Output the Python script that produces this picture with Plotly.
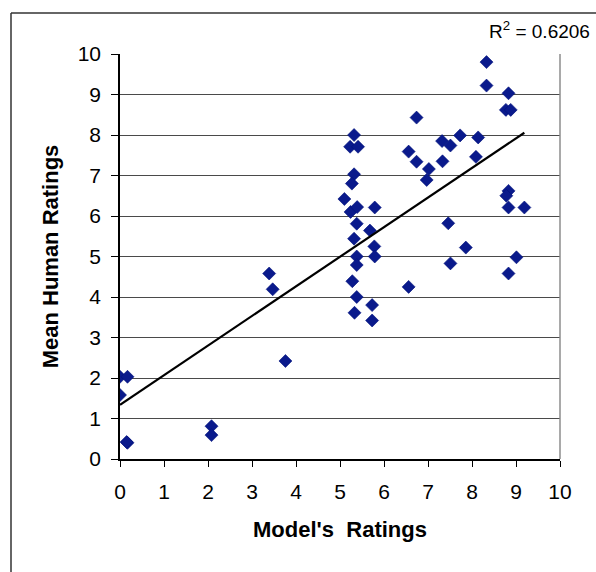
import numpy as np
import plotly.graph_objects as go

# Data
model_ratings = [0.00, 0.17, 0.00, 0.17, 0.15, 2.08, 2.08, 3.39, 3.47, 3.76,
                 5.32, 5.23, 5.41, 5.32, 5.27, 5.10, 5.24, 5.39, 5.79, 5.38,
                 5.68, 5.32, 5.78, 5.38, 5.79, 5.38, 5.28, 5.38, 5.73, 5.33,
                 5.73, 6.56, 7.51, 7.86, 9.01, 8.83, 8.33, 8.33, 8.83, 8.77,
                 8.88, 6.74, 7.73, 8.14, 7.32, 7.51, 6.56, 6.74, 7.33, 8.09,
                 7.02, 6.97, 8.83, 8.78, 8.83, 9.19, 7.46]
human_ratings = [2.03, 2.03, 1.58, 0.40, 0.42, 0.81, 0.59, 4.58, 4.19, 2.42,
                 8.00, 7.71, 7.71, 7.03, 6.80, 6.42, 6.10, 6.22, 6.21, 5.81,
                 5.64, 5.44, 5.25, 5.00, 5.00, 4.79, 4.39, 4.00, 3.80, 3.61,
                 3.42, 4.25, 4.83, 5.22, 4.98, 4.58, 9.80, 9.22, 9.03, 8.62,
                 8.62, 8.43, 7.99, 7.94, 7.85, 7.74, 7.59, 7.34, 7.35, 7.46,
                 7.16, 6.89, 6.62, 6.50, 6.21, 6.21, 5.82]
r_squared_text = "R<sup>2</sup> = 0.6206"
tick_values = list(range(0, 11))
x_title = "Model's&nbsp; Ratings"
y_title = "Mean Human Ratings"

# Linear trendline (least squares) over the data range
x_arr = np.array(model_ratings)
y_arr = np.array(human_ratings)
slope, intercept = np.polyfit(x_arr, y_arr, 1)
trend_x = np.array([x_arr.min(), x_arr.max()])
trend_y = intercept + slope * trend_x

FONT = "Liberation Sans, Arial, sans-serif"

# plot-area geometry in pixels (for paper-coordinate conversion)
W, H = 596, 572
L, R, T, B = 120, 36, 54, 113
pw, ph = W - L - R, H - T - B
def px_x(x):
    return (x - L) / pw
def px_y(y):
    return (H - B - y) / ph

fig = go.Figure()
fig.add_trace(go.Scatter(
    x=model_ratings, y=human_ratings, mode="markers",
    marker=dict(symbol="diamond", size=10, color="#0a1a8c",
                line=dict(width=0.6, color="#00107a")),
    showlegend=False, hoverinfo="x+y"))
fig.add_trace(go.Scatter(
    x=trend_x, y=trend_y, mode="lines",
    line=dict(color="black", width=2.2), showlegend=False, hoverinfo="skip"))

fig.update_layout(
    width=W, height=H,
    margin=dict(l=L, r=R, t=T, b=B, pad=0, autoexpand=False),
    paper_bgcolor="white", plot_bgcolor="white",
    font=dict(family=FONT, size=21, color="black"),
    xaxis=dict(range=[0, 10], tickvals=tick_values, ticks="outside", ticklen=6,
               tickcolor="black", showline=True, linecolor="black", linewidth=1.5,
               showgrid=False, zeroline=False, automargin=False,
               ticklabelstandoff=7,
               title=dict(text="<b>" + x_title + "</b>", font=dict(size=22), standoff=20)),
    yaxis=dict(range=[0, 10], tickvals=tick_values, ticks="outside", ticklen=7,
               tickcolor="black", showline=True, linecolor="black", linewidth=1.5,
               showgrid=True, gridcolor="#4a4a4a", gridwidth=1, zeroline=False,
               automargin=False, ticklabelstandoff=6,
               title=dict(text="<b>" + y_title + "</b>", font=dict(size=22), standoff=13)),
    shapes=[
        # plot area right border
        dict(type="line", xref="paper", yref="paper", x0=1, x1=1, y0=0, y1=1,
             line=dict(color="#8c8c8c", width=1.5)),
        # outer chart frame (left and top edges)
        dict(type="line", xref="paper", yref="paper", x0=px_x(11), x1=px_x(11),
             y0=px_y(13), y1=px_y(600), line=dict(color="#333333", width=1.5)),
        dict(type="line", xref="paper", yref="paper", x0=px_x(11), x1=px_x(620),
             y0=px_y(13), y1=px_y(13), line=dict(color="#333333", width=1.5)),
    ],
    annotations=[
        dict(text=r_squared_text, xref="paper", yref="paper",
             x=px_x(592), y=px_y(30), xanchor="right", yanchor="middle",
             showarrow=False, font=dict(size=19, color="black")),
    ],
)

fig.write_html("out.html", config={"displayModeBar": False},
               post_script="document.body.style.margin='0px';document.body.style.overflow='hidden';")
